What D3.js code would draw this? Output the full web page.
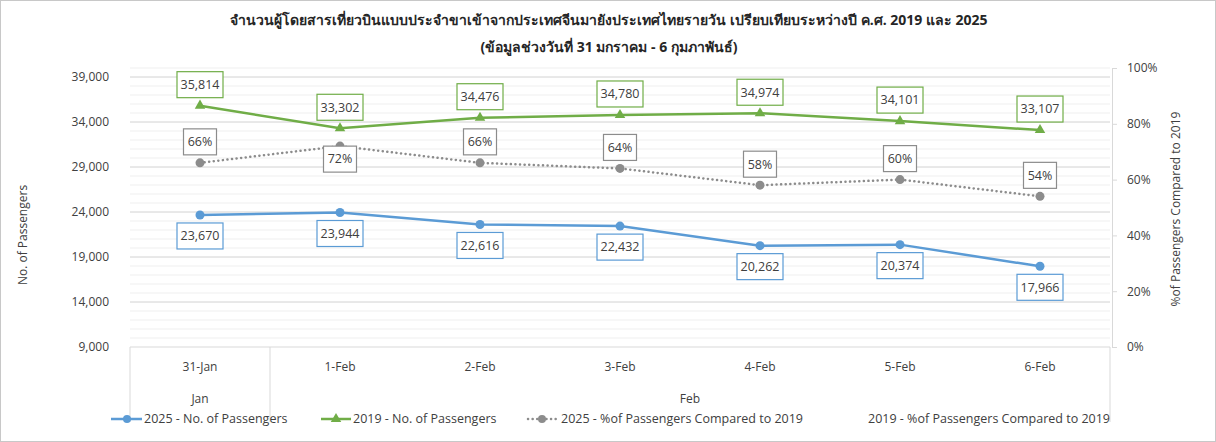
<!DOCTYPE html>
<html>
<head>
<meta charset="utf-8">
<script src="https://cdn.jsdelivr.net/npm/d3@7"></script>
<style>
  body { margin: 0; background: #fff; }
  text { font-family: Tahoma, "Open Sans", "Noto Sans", sans-serif; }
</style>
</head>
<body>
<div id="chart"></div>
<script>
// categories and values
var days = ["31-Jan", "1-Feb", "2-Feb", "3-Feb", "4-Feb", "5-Feb", "6-Feb"];
var months = ["Jan", "Feb"];
var monthOfDay = ["Jan", "Feb", "Feb", "Feb", "Feb", "Feb", "Feb"];
var pax2025 = [23670, 23944, 22616, 22432, 20262, 20374, 17966];
var pax2019 = [35814, 33302, 34476, 34780, 34974, 34101, 33107];
var pct2025 = [0.66, 0.72, 0.66, 0.64, 0.58, 0.60, 0.54];
var leftTicks = [9000, 14000, 19000, 24000, 29000, 34000, 39000];
var rightTicks = [0, 0.2, 0.4, 0.6, 0.8, 1];
var legendNames = ["2025 - No. of Passengers", "2019 - No. of Passengers",
                   "2025 - %of Passengers Compared to 2019", "2019 - %of Passengers Compared to 2019"];
var titleLines = ["จำนวนผู้โดยสารเที่ยวบินแบบประจำขาเข้าจากประเทศจีนมายังประเทศไทยรายวัน เปรียบเทียบระหว่างปี ค.ศ. 2019 และ 2025",
                  "(ข้อมูลช่วงวันที่ 31 มกราคม - 6 กุมภาพันธ์)"];

var W = 1216, H = 442;
var plot = { left: 130, right: 1110, top: 68, bottom: 347 };

var blue = "#5b9bd5", green = "#70ad47", grey = "#8c8c8c", txt = "#404040";

var svg = d3.select("#chart").append("svg")
    .attr("width", W)
    .attr("height", H);

svg.append("rect")
    .attr("x", 0.5).attr("y", 0.5)
    .attr("width", W - 1).attr("height", H - 1)
    .attr("fill", "#fff")
    .attr("stroke", "#c8c8c8");

var x = d3.scaleBand()
    .domain(days)
    .range([plot.left, plot.right]);

var y = d3.scaleLinear()
    .domain([9000, 40000])
    .range([plot.bottom, plot.top]);

var yPct = d3.scaleLinear()
    .domain([0, 1])
    .range([plot.bottom, plot.top]);

function cx(d) { return x(d) + x.bandwidth() / 2; }

// gridlines
var grid = svg.append("g");
grid.selectAll("line.minor")
    .data(d3.range(10000, 40001, 1000))
    .enter().append("line")
    .attr("x1", plot.left).attr("x2", plot.right)
    .attr("y1", function(d) { return y(d); })
    .attr("y2", function(d) { return y(d); })
    .attr("stroke", "#efefef");
grid.selectAll("line.major")
    .data(leftTicks.slice(1))
    .enter().append("line")
    .attr("x1", plot.left).attr("x2", plot.right)
    .attr("y1", function(d) { return y(d); })
    .attr("y2", function(d) { return y(d); })
    .attr("stroke", "#dadada");

// category box under the plot
var catBottom = 422;
svg.append("line")
    .attr("x1", plot.left).attr("x2", plot.right)
    .attr("y1", plot.bottom).attr("y2", plot.bottom)
    .attr("stroke", "#d9d9d9");
[plot.left, x("1-Feb"), plot.right].forEach(function(px) {
    svg.append("line")
        .attr("x1", px).attr("x2", px)
        .attr("y1", plot.bottom).attr("y2", catBottom)
        .attr("stroke", "#d9d9d9");
});

var xAxis = d3.axisBottom(x).tickSize(0).tickPadding(15);
svg.append("g")
    .attr("transform", "translate(0," + plot.bottom + ")")
    .call(xAxis)
    .call(function(g) { g.select(".domain").remove(); })
    .selectAll("text")
    .attr("fill", txt)
    .style("font-size", "12px");

months.forEach(function(m) {
    var idx = days.filter(function(d, i) { return monthOfDay[i] === m; });
    var x0 = x(idx[0]), x1 = x(idx[idx.length - 1]) + x.bandwidth();
    svg.append("text")
        .attr("x", (x0 + x1) / 2)
        .attr("y", 403)
        .attr("text-anchor", "middle")
        .attr("fill", txt)
        .style("font-size", "12px")
        .text(m);
});

// left axis
var yAxis = d3.axisLeft(y)
    .tickValues(leftTicks)
    .tickFormat(d3.format(","))
    .tickSize(0)
    .tickPadding(21);
svg.append("g")
    .attr("transform", "translate(" + plot.left + ",0)")
    .call(yAxis)
    .call(function(g) { g.select(".domain").remove(); })
    .selectAll("text")
    .attr("fill", txt)
    .style("font-size", "12px");

// right axis
var yAxisR = d3.axisRight(yPct)
    .tickValues(rightTicks)
    .tickFormat(d3.format(".0%"))
    .tickSize(5)
    .tickSizeOuter(0)
    .tickPadding(10);
var gR = svg.append("g")
    .attr("transform", "translate(" + (plot.right + 2) + ",0)")
    .call(yAxisR);
gR.select(".domain").attr("stroke", "#d9d9d9");
gR.selectAll(".tick line").attr("stroke", "#d9d9d9");
gR.selectAll("text").attr("fill", txt).style("font-size", "12px");

// axis titles
svg.append("text")
    .attr("transform", "translate(27,235) rotate(-90)")
    .attr("text-anchor", "middle")
    .attr("fill", txt)
    .style("font-size", "12px")
    .text("No. of Passengers");
svg.append("text")
    .attr("transform", "translate(1180,209) rotate(-90)")
    .attr("text-anchor", "middle")
    .attr("fill", txt)
    .style("font-size", "12px")
    .text("%of Passengers Compared to 2019");

// title
titleLines.forEach(function(t, i) {
    svg.append("text")
        .attr("x", 609)
        .attr("y", 25 + i * 27)
        .attr("text-anchor", "middle")
        .attr("fill", "#262626")
        .style("font-size", "14px")
        .style("font-weight", "bold")
        .text(t);
});

// lines
var linePax = d3.line()
    .x(function(d, i) { return cx(days[i]); })
    .y(function(d) { return y(d); });
var linePct = d3.line()
    .x(function(d, i) { return cx(days[i]); })
    .y(function(d) { return yPct(d); });

svg.append("path")
    .datum(pct2025)
    .attr("d", linePct)
    .attr("fill", "none")
    .attr("stroke", grey)
    .attr("stroke-width", 2.5)
    .attr("stroke-linecap", "round")
    .attr("stroke-dasharray", "0.1 4.5");
svg.append("path")
    .datum(pax2019)
    .attr("d", linePax)
    .attr("fill", "none")
    .attr("stroke", green)
    .attr("stroke-width", 2.5);
svg.append("path")
    .datum(pax2025)
    .attr("d", linePax)
    .attr("fill", "none")
    .attr("stroke", blue)
    .attr("stroke-width", 2.5);

var tri = d3.symbol().type(d3.symbolTriangle).size(48);

svg.selectAll("circle.pct")
    .data(pct2025)
    .enter().append("circle")
    .attr("cx", function(d, i) { return cx(days[i]); })
    .attr("cy", function(d) { return yPct(d); })
    .attr("r", 4.5)
    .attr("fill", grey);
svg.selectAll("path.tri")
    .data(pax2019)
    .enter().append("path")
    .attr("d", tri)
    .attr("transform", function(d, i) { return "translate(" + cx(days[i]) + "," + y(d) + ")"; })
    .attr("fill", green);
svg.selectAll("circle.p25")
    .data(pax2025)
    .enter().append("circle")
    .attr("cx", function(d, i) { return cx(days[i]); })
    .attr("cy", function(d) { return y(d); })
    .attr("r", 4.5)
    .attr("fill", blue);

// data labels in boxes
function boxLabel(px, py, label, color, w) {
    svg.append("rect")
        .attr("x", px - w / 2).attr("y", py - 13)
        .attr("width", w).attr("height", 26)
        .attr("fill", "#fff")
        .attr("stroke", color)
        .attr("stroke-width", 1.2);
    svg.append("text")
        .attr("x", px).attr("y", py)
        .attr("dy", "0.35em")
        .attr("text-anchor", "middle")
        .attr("fill", txt)
        .style("font-size", "12.5px")
        .text(label);
}

pax2019.forEach(function(v, i) {
    boxLabel(cx(days[i]), y(v) - 21, d3.format(",")(v), green, 46);
});
pax2025.forEach(function(v, i) {
    boxLabel(cx(days[i]), y(v) + 21, d3.format(",")(v), blue, 46);
});
pct2025.forEach(function(v, i) {
    // 1-Feb label sits under its point
    var off = i === 1 ? 13 : -21;
    boxLabel(cx(days[i]), yPct(v) + off, d3.format(".0%")(v), grey, 33);
});

// legend
var ly = 419;
var leg = svg.append("g");
leg.append("line").attr("x1", 111).attr("x2", 142).attr("y1", ly).attr("y2", ly)
    .attr("stroke", blue).attr("stroke-width", 2.5);
leg.append("circle").attr("cx", 127).attr("cy", ly).attr("r", 4).attr("fill", blue);
leg.append("line").attr("x1", 321).attr("x2", 351).attr("y1", ly).attr("y2", ly)
    .attr("stroke", green).attr("stroke-width", 2.5);
leg.append("path").attr("d", tri).attr("transform", "translate(336," + ly + ")").attr("fill", green);
leg.append("line").attr("x1", 528).attr("x2", 556).attr("y1", ly).attr("y2", ly)
    .attr("stroke", grey).attr("stroke-width", 2.5)
    .attr("stroke-linecap", "round").attr("stroke-dasharray", "0.1 4.5");
leg.append("circle").attr("cx", 542).attr("cy", ly).attr("r", 4).attr("fill", grey);

var legX = [144, 353, 561, 868];
leg.selectAll("text")
    .data(legendNames)
    .enter().append("text")
    .attr("x", function(d, i) { return legX[i]; })
    .attr("y", ly)
    .attr("dy", "0.35em")
    .attr("fill", txt)
    .style("font-size", "12.5px")
    .text(function(d) { return d; });
</script>
</body>
</html>
